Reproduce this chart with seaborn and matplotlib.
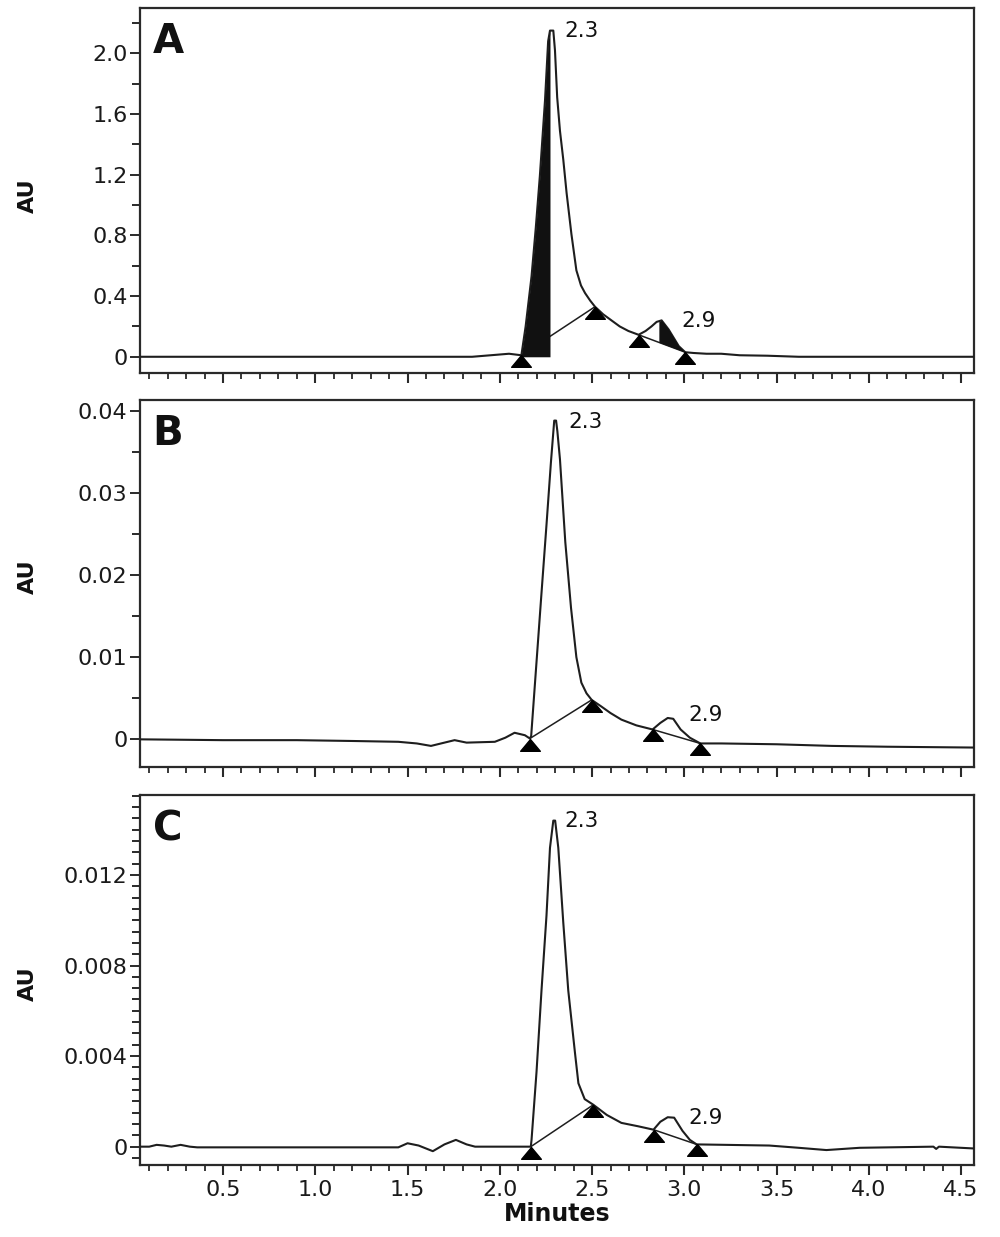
import numpy as np
import matplotlib
matplotlib.use("Agg")
import matplotlib.pyplot as plt
import seaborn as sns
from matplotlib.path import Path
from matplotlib.ticker import MultipleLocator, FixedLocator, FuncFormatter

sns.set_style("ticks")
plt.rcParams['font.family'] = ['DejaVu Sans']

# ---------------- data ----------------
a_time = [0.05, 1.85, 1.95, 2.05, 2.117, 2.14, 2.172, 2.195, 2.217, 2.245,
          2.262, 2.272, 2.29, 2.299, 2.311, 2.326, 2.344, 2.362, 2.388, 2.415,
          2.44, 2.462, 2.49, 2.516, 2.56, 2.605, 2.65, 2.697, 2.752, 2.79,
          2.822, 2.85, 2.877, 2.915, 2.97, 3.005, 3.05, 3.12, 3.2, 3.3,
          3.45, 3.62, 4.0, 4.57]
a_au = [0.0, 0.0, 0.01, 0.02, 0.01, 0.2, 0.53, 0.85, 1.19, 1.69,
        2.08, 2.15, 2.15, 2.02, 1.71, 1.49, 1.30, 1.08, 0.81, 0.57,
        0.47, 0.42, 0.37, 0.33, 0.28, 0.24, 0.2, 0.17, 0.145, 0.17,
        0.20, 0.23, 0.24, 0.18, 0.07, 0.03, 0.025, 0.02, 0.02, 0.01,
        0.007, 0.0, 0.0, 0.0]
a_tri_time = [2.117, 2.516, 2.752, 3.005]
a_tri_au = [0.01, 0.33, 0.145, 0.03]

b_time = [0.05, 0.5, 0.9, 1.2, 1.45, 1.55, 1.627, 1.70, 1.755, 1.82,
          1.973, 2.03, 2.08, 2.136, 2.163, 2.170, 2.197, 2.224, 2.253, 2.277,
          2.295, 2.305, 2.312, 2.326, 2.355, 2.386, 2.415, 2.442, 2.47, 2.498,
          2.55, 2.60, 2.659, 2.74, 2.828, 2.87, 2.91, 2.94, 2.98, 3.03,
          3.087, 3.2, 3.5, 3.8, 4.1, 4.57]
b_au = [0.0, -0.0001, -0.0001, -0.0002, -0.0003, -0.0005, -0.0008, -0.0004, -0.0001, -0.0004,
        -0.0003, 0.0002, 0.0008, 0.0005, 0.0001, 0.0004, 0.0088, 0.0172, 0.0261, 0.0337,
        0.0388, 0.0388, 0.0375, 0.0341, 0.024, 0.016, 0.010, 0.0069, 0.0056, 0.0048,
        0.0040, 0.0032, 0.0024, 0.0017, 0.0012, 0.0020, 0.0026, 0.0025, 0.0012, 0.0002,
        -0.0005, -0.0005, -0.0006, -0.0008, -0.0009, -0.001]
b_tri_time = [2.163, 2.498, 2.828, 3.087]
b_tri_au = [0.0001, 0.0048, 0.0012, -0.0005]

c_time = [0.05, 0.10, 0.14, 0.18, 0.22, 0.27, 0.32, 0.36, 1.45, 1.50,
          1.56, 1.637, 1.70, 1.762, 1.82, 1.866, 2.168, 2.172, 2.199, 2.226,
          2.253, 2.272, 2.29, 2.30, 2.317, 2.344, 2.371, 2.408, 2.426, 2.46,
          2.507, 2.58, 2.659, 2.75, 2.833, 2.87, 2.91, 2.945, 2.99, 3.03,
          3.067, 3.46, 3.62, 3.77, 3.95, 4.35, 4.365, 4.38, 4.57]
c_au = [0.0, 0.0, 0.00008, 0.00005, 0.0, 0.00008, 0.0, -0.00003, -0.00003, 0.00015,
        0.00005, -0.0002, 0.0001, 0.0003, 0.0001, 0.0, 0.0, 0.0003, 0.0033, 0.0069,
        0.0102, 0.0132, 0.0144, 0.0144, 0.0132, 0.0099, 0.0069, 0.0041, 0.0028, 0.0021,
        0.00185, 0.0014, 0.00105, 0.0009, 0.00075, 0.0011, 0.0013, 0.00128, 0.0007, 0.0003,
        0.0001, 0.00005, -0.00005, -0.00015, -0.00005, 0.0, -0.0001, 0.0, -0.00008]
c_tri_time = [2.168, 2.507, 2.833, 3.067]
c_tri_au = [0.0, 0.00185, 0.00075, 0.0001]

panel_letters = ["A", "B", "C"]
peak_labels = ["2.3", "2.9"]
a_label_pos = [(2.35, 2.15), (2.985, 0.235)]
b_label_pos = [(2.37, 0.0386), (3.02, 0.0030)]
c_label_pos = [(2.35, 0.0144), (3.02, 0.00127)]

a_yticks = [0, 0.4, 0.8, 1.2, 1.6, 2.0]
b_yticks = [0, 0.01, 0.02, 0.03, 0.04]
c_yticks = [0, 0.004, 0.008, 0.012]
x_ticks = [0.5, 1.0, 1.5, 2.0, 2.5, 3.0, 3.5, 4.0, 4.5]

# shaded (integrated) segments in panel A: (start, end)
a_fill1 = (2.117, 2.272)
a_fill2 = (2.862, 3.005)

# ---------------- styling ----------------
LINE = "#1e1e1e"
SPINE = "#2a2a2a"
tri_marker = Path([(0, 0), (-1, -1.2), (1, -1.2), (0, 0)],
                  [Path.MOVETO, Path.LINETO, Path.LINETO, Path.CLOSEPOLY])

fig = plt.figure(figsize=(10, 12.37), dpi=100)
fig.patch.set_facecolor("white")

rects = [[0.14, 0.6987, 0.834, 0.2946],
         [0.14, 0.3802, 0.834, 0.2964],
         [0.14, 0.0582, 0.834, 0.2991]]
ylims = [(-0.105, 2.297), (-0.00333, 0.0413), (-0.00081, 0.01553)]
yminor = [0.2, 0.005, 0.0005]
ylabel_y = [0.485, 0.517, 0.49]

panels = [
    (a_time, a_au, a_tri_time, a_tri_au, a_label_pos, a_yticks),
    (b_time, b_au, b_tri_time, b_tri_au, b_label_pos, b_yticks),
    (c_time, c_au, c_tri_time, c_tri_au, c_label_pos, c_yticks),
]

def fmt(v, pos):
    if abs(v) < 1e-12:
        return "0"
    s = f"{v:.3f}".rstrip("0")
    if s.endswith("."):
        s += "0"
    return s

axes = []
for i, (t, y, tt, ty, lpos, yt) in enumerate(panels):
    ax = fig.add_axes(rects[i])
    axes.append(ax)
    sns.lineplot(x=t, y=y, ax=ax, color=LINE, lw=1.5, estimator=None,
                 sort=False, legend=False, zorder=3)
    # baselines between integration markers
    ax.plot(tt[0:2], ty[0:2], color=LINE, lw=1.1, zorder=2)
    ax.plot(tt[2:4], ty[2:4], color=LINE, lw=1.1, zorder=2)
    ax.plot(tt, ty, linestyle="none", marker=tri_marker, ms=17,
            color="black", zorder=5)
    for lab, (lx, ly) in zip(peak_labels, lpos):
        ax.text(lx, ly, lab, fontsize=15.5, ha="left", va="center", color="#111111")
    ax.text(0.015, 0.962, panel_letters[i], transform=ax.transAxes,
            fontsize=29, fontweight="bold", ha="left", va="top", color="#111111")

    ax.set_xlim(0.05, 4.57)
    ax.set_ylim(*ylims[i])
    ax.xaxis.set_major_locator(FixedLocator(x_ticks))
    ax.xaxis.set_minor_locator(MultipleLocator(0.1))
    ax.yaxis.set_major_locator(FixedLocator(yt))
    ax.yaxis.set_minor_locator(MultipleLocator(yminor[i]))
    ax.yaxis.set_major_formatter(FuncFormatter(fmt))
    ax.xaxis.set_major_formatter(FuncFormatter(lambda v, p: f"{v:.1f}"))

    ax.tick_params(axis="y", which="major", length=7, width=1.4, pad=2,
                   labelsize=16, color=SPINE, labelcolor="#1a1a1a", direction="out")
    ax.tick_params(axis="y", which="minor", length=6, width=1.4,
                   color=SPINE, direction="out")
    ax.tick_params(axis="x", which="major", length=7, width=1.5, pad=4,
                   labelsize=16, color=SPINE, labelcolor="#1a1a1a", direction="out",
                   labelbottom=(i == 2))
    ax.tick_params(axis="x", which="minor", length=4.5, width=1.3,
                   color=SPINE, direction="out")
    for sp in ax.spines.values():
        sp.set_visible(True)
        sp.set_color(SPINE)
        sp.set_linewidth(1.6)
    ax.set_ylabel("AU", fontsize=16, fontweight="bold", color="#111111")
    ax.yaxis.set_label_coords(-0.122, ylabel_y[i])
    ax.set_xlabel("")
    ax.grid(False)

# shaded areas in panel A
axA = axes[0]
g1 = np.linspace(a_fill1[0], a_fill1[1], 300)
axA.fill_between(g1, 0, np.interp(g1, a_time, a_au), color="#111111", lw=0, zorder=4)
g2 = np.linspace(a_fill2[0], a_fill2[1], 300)
axA.fill_between(g2, np.interp(g2, a_tri_time[2:4], a_tri_au[2:4]),
                 np.interp(g2, a_time, a_au), color="#111111", lw=0, zorder=4)

axes[2].set_xlabel("Minutes", fontsize=17, fontweight="bold", labelpad=1,
                   color="#111111")

fig.savefig("out.png", dpi=100, facecolor="white")
